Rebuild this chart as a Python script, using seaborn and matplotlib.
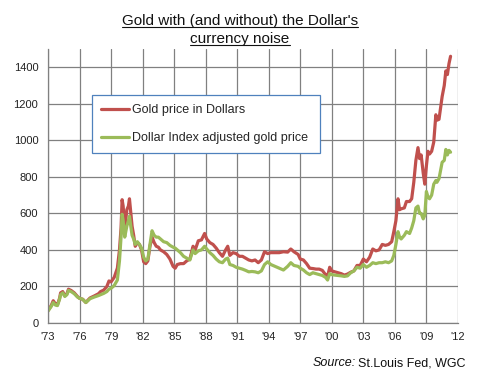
"""
Gold with (and without) the Dollar's currency noise
Two price lines, 1973-2011, redrawn with seaborn.
"""

import pandas as pd
import matplotlib
matplotlib.use("Agg")
import matplotlib.pyplot as plt
from matplotlib.lines import Line2D
import seaborn as sns

# ── Data
gold_years = [
    1973.0, 1973.3, 1973.5, 1973.7, 1973.9, 1974.1, 1974.2, 1974.4, 1974.6, 1974.8,
    1974.95, 1975.2, 1975.5, 1975.8, 1976.0, 1976.3, 1976.6, 1976.8, 1977.0, 1977.4,
    1977.8, 1978.0, 1978.3, 1978.6, 1978.8, 1979.0, 1979.3, 1979.6, 1979.8, 1979.95,
    1980.05, 1980.15, 1980.3, 1980.5, 1980.65, 1980.75, 1980.85, 1981.0, 1981.15, 1981.3,
    1981.5, 1981.7, 1981.9, 1982.1, 1982.3, 1982.5, 1982.7, 1982.9, 1983.1, 1983.3,
    1983.5, 1983.7, 1984.0, 1984.3, 1984.6, 1984.9, 1985.1, 1985.3, 1985.6, 1985.9,
    1986.2, 1986.5, 1986.8, 1987.0, 1987.3, 1987.6, 1987.9, 1988.1, 1988.4, 1988.7,
    1989.0, 1989.3, 1989.6, 1989.9, 1990.1, 1990.3, 1990.6, 1990.9, 1991.2, 1991.5,
    1991.8, 1992.1, 1992.4, 1992.7, 1993.0, 1993.3, 1993.6, 1993.9, 1994.2, 1994.6,
    1995.0, 1995.4, 1995.8, 1996.1, 1996.4, 1996.8, 1997.0, 1997.3, 1997.6, 1997.9,
    1998.2, 1998.5, 1998.8, 1999.1, 1999.4, 1999.6, 1999.8, 2000.0, 2000.3, 2000.6,
    2000.9, 2001.2, 2001.5, 2001.8, 2002.1, 2002.4, 2002.7, 2003.0, 2003.3, 2003.6,
    2003.9, 2004.2, 2004.5, 2004.8, 2005.1, 2005.4, 2005.7, 2005.9, 2006.1, 2006.3,
    2006.45, 2006.6, 2006.9, 2007.1, 2007.4, 2007.6, 2007.8, 2008.0, 2008.2, 2008.35,
    2008.5, 2008.7, 2008.85, 2009.0, 2009.15, 2009.3, 2009.5, 2009.7, 2009.9, 2010.0,
    2010.2, 2010.4, 2010.5, 2010.7, 2010.85, 2011.0, 2011.15, 2011.3,
]
gold_usd = [
    68, 95, 122, 105, 100, 135, 165, 172, 150, 160,
    185, 178, 165, 145, 135, 130, 112, 125, 137, 148,
    160, 172, 180, 200, 230, 225, 250, 300, 400, 520,
    675, 640, 510, 620, 640, 680, 620, 530, 480, 420,
    440, 430, 400, 335, 325, 340, 420, 470, 440, 420,
    415, 400, 390, 375, 350, 310, 300, 320, 325, 325,
    340, 350, 420, 400, 450, 455, 490, 460, 440, 430,
    410, 385, 365, 400, 420, 370, 385, 380, 365, 365,
    355, 345, 340, 345, 330, 345, 390, 380, 385, 385,
    385, 390, 388, 405, 390, 375, 350, 345, 325, 300,
    298, 295, 295, 288, 265, 255, 305, 285, 280, 275,
    270, 262, 268, 278, 285, 315, 315, 350, 335, 360,
    405, 395, 400, 430, 425, 430, 445, 500, 560, 680,
    620, 625, 630, 665, 665, 680, 770, 890, 960, 900,
    920, 820, 760, 860, 940, 925, 940, 990, 1140, 1110,
    1115, 1200, 1240, 1300, 1380, 1360, 1420, 1460,
]
gold_adj = [
    65, 90, 112, 98, 95, 130, 155, 165, 145, 155,
    178, 172, 160, 142, 135, 130, 112, 122, 133, 142,
    150, 155, 162, 172, 185, 190, 205, 235, 340, 470,
    595, 560, 470, 530, 560, 585, 540, 480, 460, 430,
    445, 430, 410, 360, 340, 350, 430, 505, 480, 470,
    470, 460, 445, 440, 425, 415, 410, 400, 385, 365,
    355, 345, 400, 380, 395, 400, 420, 405, 385, 370,
    350, 335, 330, 350, 355, 320, 315, 305, 300, 295,
    288, 280, 282, 280, 275, 285, 320, 335, 320, 310,
    300, 290, 310, 330, 315, 310, 300, 290, 275, 265,
    275, 270, 265, 260, 250, 235, 270, 265, 262, 260,
    258, 255, 258, 275, 285, 305, 300, 320, 305, 315,
    330, 325, 330, 330, 335, 330, 340, 370, 430, 500,
    470, 460, 480, 500, 490, 520, 560, 630, 640, 600,
    600, 570, 590, 720, 690, 680, 700, 760, 780, 770,
    790, 850, 880, 890, 950, 920, 945, 935,
]
series_names = ["Gold price in Dollars", "Dollar Index adjusted gold price"]
year_ticks = list(range(1973, 2013, 3))
year_labels = ["'" + str(y)[2:] for y in year_ticks]
price_ticks = list(range(0, 1401, 200))

RED = "#C0504D"
GREEN = "#9BBB59"
GRID = "#808080"

df = pd.concat([
    pd.DataFrame({"year": gold_years, "price": gold_usd, "series": series_names[0]}),
    pd.DataFrame({"year": gold_years, "price": gold_adj, "series": series_names[1]}),
])

sns.set_style("white")
plt.rcParams["font.family"] = ["Liberation Sans", "DejaVu Sans"]

fig = plt.figure(figsize=(4.8, 3.74), dpi=100)
ax = fig.add_axes([0.1, 0.1364, 0.854, 0.7326])

sns.lineplot(
    data=df, x="year", y="price", hue="series",
    palette=[RED, GREEN], linewidth=2.3, estimator=None, sort=False, ax=ax,
)

ax.set_xlim(1973, 2012)
ax.set_ylim(0, 1500)
ax.set_xticks(year_ticks)
ax.set_xticklabels(year_labels)
ax.set_yticks(price_ticks)
ax.set_xlabel("")
ax.set_ylabel("")
ax.grid(True, color=GRID, linewidth=0.9)
ax.set_axisbelow(True)
for side in ["top", "right"]:
    ax.spines[side].set_visible(False)
for side in ["left", "bottom"]:
    ax.spines[side].set_color(GRID)
    ax.spines[side].set_linewidth(0.9)
ax.tick_params(axis="both", length=4, width=0.9, color=GRID, labelsize=8,
               labelcolor="#222222", pad=3, direction="out")
ax.tick_params(axis="x", direction="inout", length=7)

# ── Legend
handles = [Line2D([], [], color=RED, linewidth=2.3),
           Line2D([], [], color=GREEN, linewidth=2.3)]
leg = ax.legend(
    handles, series_names, loc="upper left",
    bbox_to_anchor=(0.107, 0.606, 0.556, 0.226), mode="expand",
    fontsize=9, frameon=True, fancybox=False, framealpha=1,
    edgecolor="#4F81BD", handlelength=2.2, handletextpad=0.3,
    labelspacing=1.25, borderpad=0.75, borderaxespad=0,
)
leg.get_frame().set_linewidth(0.9)

# ── Title (underlined, two lines)
t1 = fig.text(0.5, 1 - 25 / 374, "Gold with (and without) the Dollar's",
              ha="center", va="baseline", fontsize=11, color="#111111")
t2 = fig.text(0.5, 1 - 43 / 374, "currency noise",
              ha="center", va="baseline", fontsize=11, color="#111111")

# ── Source
s2 = fig.text(466 / 480, 1 - 366 / 374, "St.Louis Fed, WGC",
              ha="right", va="baseline", fontsize=9, color="#111111")

fig.canvas.draw()
renderer = fig.canvas.get_renderer()
inv = fig.transFigure.inverted()
for t, y_px in [(t1, 27), (t2, 45)]:
    bb = t.get_window_extent(renderer)
    x0, _ = inv.transform((bb.x0, 0))
    x1, _ = inv.transform((bb.x1, 0))
    y = 1 - y_px / 374
    fig.add_artist(Line2D([x0, x1], [y, y], transform=fig.transFigure,
                          color="#111111", linewidth=0.8))

bb = s2.get_window_extent(renderer)
sx, _ = inv.transform((bb.x0 - 3, 0))
fig.text(sx, 1 - 366 / 374, "Source:", ha="right", va="baseline",
         fontsize=9, style="italic", color="#111111")

plt.savefig("out.png", dpi=100)
